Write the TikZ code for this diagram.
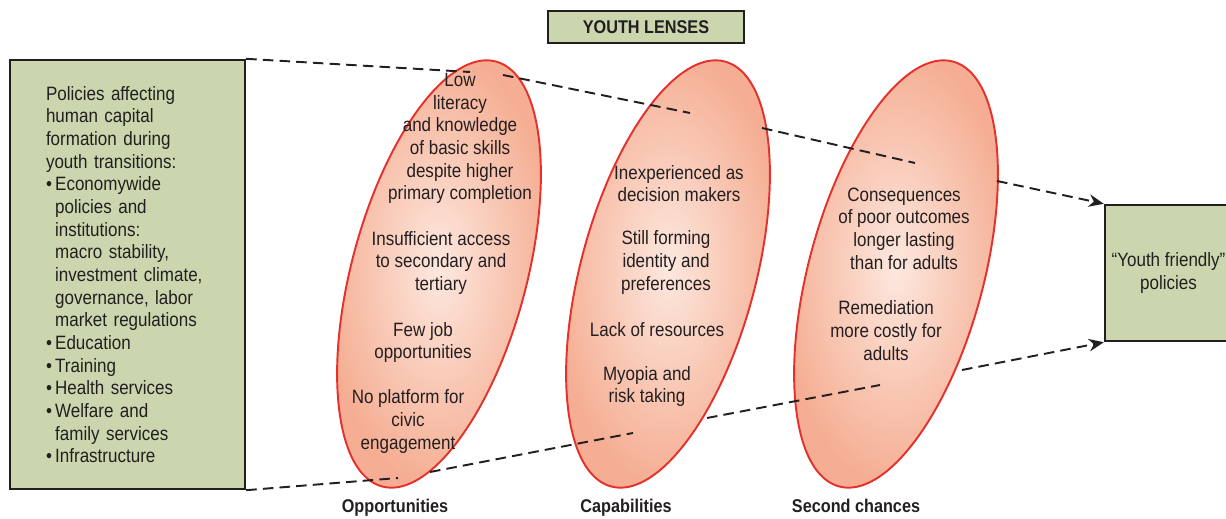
\documentclass[tikz,border=0pt]{standalone}
\usepackage{fontspec}
\setmainfont{Liberation Sans}[FakeStretch=0.88]
\usetikzlibrary{shapes.geometric,arrows.meta}
\definecolor{boxgreen}{HTML}{CBD5AE}
\definecolor{inkgray}{HTML}{231F20}
\definecolor{lensred}{HTML}{E4312B}
\definecolor{lensedge}{HTML}{F5AE93}
\definecolor{lenscore}{HTML}{FDE8DF}
\newcommand{\pbullet}{\textbullet\,}
\newcommand{\pindent}{\hphantom{\textbullet\,}}
\begin{document}
\begin{tikzpicture}[x=0.02cm, y=-0.02cm,
  greenbox/.style={draw=inkgray, line width=1.4pt, fill=boxgreen, inner sep=0pt, text=inkgray},
  lens/.style={ellipse, draw=lensred, line width=1.1pt, inner color=lenscore, outer color=lensedge,
    minimum width=3.5cm, minimum height=8.8cm, inner sep=0pt, rotate=-15},
  bodytext/.style={font=\fontsize{11}{12.9}\selectfont},
  lenstext/.style={bodytext, align=center, text=inkgray, inner sep=0pt},
  lenslabel/.style={anchor=base, text=inkgray, inner sep=0pt, font=\fontsize{10.5}{12}\selectfont\bfseries},
  guide/.style={inkgray, line width=1.1pt, dash pattern=on 6pt off 3.5pt}]
\useasboundingbox (0,0) rectangle (1226,519);
\clip (0,0) rectangle (1226,519);
% policy boxes
\node[greenbox, bodytext, align=left, text width=3.26cm, minimum width=4.7cm, minimum height=8.58cm] (policies) at (127.5,274.5)
  {Policies affecting\\ human capital\\ formation during\\ youth transitions:\\
   \pbullet Economywide\\ \pindent policies and\\ \pindent institutions:\\ \pindent macro stability,\\
   \pindent investment climate,\\ \pindent governance, labor\\ \pindent market regulations\\
   \pbullet Education\\ \pbullet Training\\ \pbullet Health services\\ \pbullet Welfare and\\
   \pindent family services\\ \pbullet Infrastructure};
\node[greenbox, font=\fontsize{10.5}{12}\selectfont\bfseries, minimum width=3.92cm, minimum height=0.64cm] (lenses) at (646,27) {YOUTH LENSES};
\node[greenbox, bodytext, align=center, minimum width=2.54cm, minimum height=2.72cm] (friendly) at (1168.5,273) {“Youth friendly”\\ policies};
% the three lenses
\node[lens] (opportunities) at (439,274) {};
\node[lens] (capabilities) at (668,274) {};
\node[lens] (chances) at (896,274) {};
\node[lenstext] (opp1) at (460,138.5) {Low\\ literacy\\ and knowledge\\ of basic skills\\ despite higher\\ primary completion};
\node[lenstext] (opp2) at (441,263) {Insufficient access\\ to secondary and\\ tertiary};
\node[lenstext] (opp3) at (423,342.5) {Few job\\ opportunities};
\node[lenstext] (opp4) at (408,421.5) {No platform for\\ civic\\ engagement};
\node[lenstext] (cap1) at (679,183.5) {Inexperienced as\\ decision makers};
\node[lenstext] (cap2) at (666,262.5) {Still forming\\ identity and\\ preferences};
\node[lenstext] (cap3) at (657,330) {Lack of resources};
\node[lenstext] (cap4) at (647,386.5) {Myopia and\\ risk taking};
\node[lenstext] (sec1) at (904,228.5) {Consequences\\ of poor outcomes\\ longer lasting\\ than for adults};
\node[lenstext] (sec2) at (886,330.5) {Remediation\\ more costly for\\ adults};
\node[lenslabel] (oplabel) at (395,513) {Opportunities};
\node[lenslabel] (caplabel) at (626,513) {Capabilities};
\node[lenslabel] (seclabel) at (856,513) {Second chances};
% dashed guides
\coordinate (ta1) at (470,72);
\coordinate (ta2) at (503,75);
\coordinate (ta3) at (690,113);
\coordinate (ta4) at (762,128);
\coordinate (ta5) at (915,163);
\coordinate (ta6) at (997,181);
\coordinate (ba1) at (398,478);
\coordinate (ba2) at (430,472);
\coordinate (ba3) at (633,433);
\coordinate (ba4) at (707,418);
\coordinate (ba5) at (880,385);
\coordinate (ba6) at (962,370);
\draw[guide] (policies.north east) -- (ta1);
\draw[guide] (ta2) -- (ta3);
\draw[guide] (ta4) -- (ta5);
\draw[guide, -{Stealth[length=3mm, width=2.5mm]}] (ta6) -- (friendly.north west);
\draw[guide] (policies.south east) -- (ba1);
\draw[guide] (ba2) -- (ba3);
\draw[guide] (ba4) -- (ba5);
\draw[guide, -{Stealth[length=3mm, width=2.5mm]}] (ba6) -- (friendly.south west);
\end{tikzpicture}
\end{document}
